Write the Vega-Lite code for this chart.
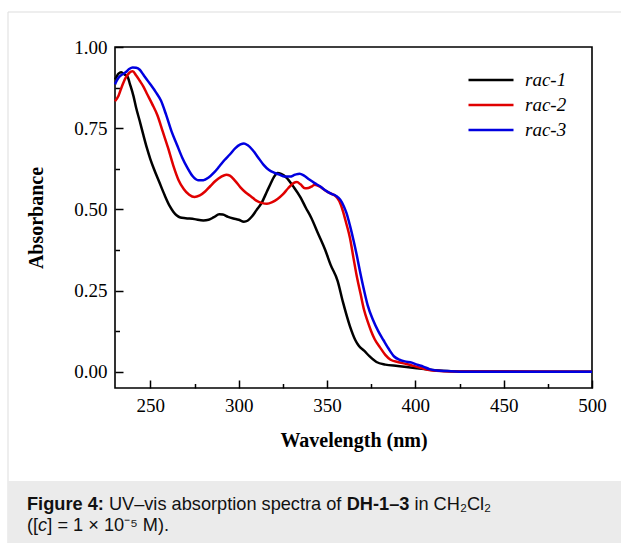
{
  "$schema": "https://vega.github.io/schema/vega-lite/v6.json",
  "width": 477,
  "height": 341,
  "autosize": {"type": "none"},
  "padding": {"left": 115, "top": 47, "right": 29, "bottom": 155},
  "background": "white",
  "config": {
    "view": {"stroke": "#000", "strokeWidth": 1.6},
    "axis": {"labelFont": "Liberation Serif", "labelFontSize": 19, "labelColor": "#000", "titleFont": "Liberation Serif", "titleFontSize": 20, "titleFontWeight": "bold", "titleColor": "#000", "tickColor": "#000", "tickWidth": 1.5, "domain": false, "grid": false, "labelFlush": false, "labelOverlap": false}
  },
  "data": {"values": [
    {"series": "rac-1", "wavelength": 230, "absorbance": 0.900},
    {"series": "rac-1", "wavelength": 232, "absorbance": 0.918},
    {"series": "rac-1", "wavelength": 233.5, "absorbance": 0.922},
    {"series": "rac-1", "wavelength": 235.5, "absorbance": 0.915},
    {"series": "rac-1", "wavelength": 237, "absorbance": 0.910},
    {"series": "rac-1", "wavelength": 238.5, "absorbance": 0.885},
    {"series": "rac-1", "wavelength": 240.5, "absorbance": 0.848},
    {"series": "rac-1", "wavelength": 242, "absorbance": 0.812},
    {"series": "rac-1", "wavelength": 244, "absorbance": 0.772},
    {"series": "rac-1", "wavelength": 246, "absorbance": 0.730},
    {"series": "rac-1", "wavelength": 248, "absorbance": 0.690},
    {"series": "rac-1", "wavelength": 250, "absorbance": 0.655},
    {"series": "rac-1", "wavelength": 252, "absorbance": 0.625},
    {"series": "rac-1", "wavelength": 255, "absorbance": 0.585},
    {"series": "rac-1", "wavelength": 258, "absorbance": 0.545},
    {"series": "rac-1", "wavelength": 261, "absorbance": 0.510},
    {"series": "rac-1", "wavelength": 263, "absorbance": 0.493},
    {"series": "rac-1", "wavelength": 265, "absorbance": 0.481},
    {"series": "rac-1", "wavelength": 267, "absorbance": 0.475},
    {"series": "rac-1", "wavelength": 270, "absorbance": 0.473},
    {"series": "rac-1", "wavelength": 275, "absorbance": 0.470},
    {"series": "rac-1", "wavelength": 280, "absorbance": 0.466},
    {"series": "rac-1", "wavelength": 283, "absorbance": 0.468},
    {"series": "rac-1", "wavelength": 286, "absorbance": 0.476},
    {"series": "rac-1", "wavelength": 289, "absorbance": 0.485},
    {"series": "rac-1", "wavelength": 291, "absorbance": 0.484},
    {"series": "rac-1", "wavelength": 294, "absorbance": 0.477},
    {"series": "rac-1", "wavelength": 297, "absorbance": 0.472},
    {"series": "rac-1", "wavelength": 300, "absorbance": 0.468},
    {"series": "rac-1", "wavelength": 303, "absorbance": 0.462},
    {"series": "rac-1", "wavelength": 305, "absorbance": 0.465},
    {"series": "rac-1", "wavelength": 307.5, "absorbance": 0.478},
    {"series": "rac-1", "wavelength": 310, "absorbance": 0.497},
    {"series": "rac-1", "wavelength": 313, "absorbance": 0.520},
    {"series": "rac-1", "wavelength": 316, "absorbance": 0.555},
    {"series": "rac-1", "wavelength": 318, "absorbance": 0.578},
    {"series": "rac-1", "wavelength": 320, "absorbance": 0.600},
    {"series": "rac-1", "wavelength": 322, "absorbance": 0.612},
    {"series": "rac-1", "wavelength": 324, "absorbance": 0.609},
    {"series": "rac-1", "wavelength": 327, "absorbance": 0.598},
    {"series": "rac-1", "wavelength": 331, "absorbance": 0.570},
    {"series": "rac-1", "wavelength": 335, "absorbance": 0.537},
    {"series": "rac-1", "wavelength": 338, "absorbance": 0.505},
    {"series": "rac-1", "wavelength": 341, "absorbance": 0.475},
    {"series": "rac-1", "wavelength": 345, "absorbance": 0.425},
    {"series": "rac-1", "wavelength": 349, "absorbance": 0.375},
    {"series": "rac-1", "wavelength": 352, "absorbance": 0.330},
    {"series": "rac-1", "wavelength": 356, "absorbance": 0.280},
    {"series": "rac-1", "wavelength": 359, "absorbance": 0.215},
    {"series": "rac-1", "wavelength": 363, "absorbance": 0.140},
    {"series": "rac-1", "wavelength": 366, "absorbance": 0.098},
    {"series": "rac-1", "wavelength": 368, "absorbance": 0.080},
    {"series": "rac-1", "wavelength": 371, "absorbance": 0.065},
    {"series": "rac-1", "wavelength": 374, "absorbance": 0.048},
    {"series": "rac-1", "wavelength": 378, "absorbance": 0.030},
    {"series": "rac-1", "wavelength": 383, "absorbance": 0.022},
    {"series": "rac-1", "wavelength": 390, "absorbance": 0.018},
    {"series": "rac-1", "wavelength": 395, "absorbance": 0.015},
    {"series": "rac-1", "wavelength": 401, "absorbance": 0.011},
    {"series": "rac-1", "wavelength": 408, "absorbance": 0.006},
    {"series": "rac-1", "wavelength": 415, "absorbance": 0.003},
    {"series": "rac-1", "wavelength": 425, "absorbance": 0.001},
    {"series": "rac-1", "wavelength": 500, "absorbance": 0.0},
    {"series": "rac-2", "wavelength": 230, "absorbance": 0.833},
    {"series": "rac-2", "wavelength": 232, "absorbance": 0.850},
    {"series": "rac-2", "wavelength": 234, "absorbance": 0.880},
    {"series": "rac-2", "wavelength": 236, "absorbance": 0.905},
    {"series": "rac-2", "wavelength": 238, "absorbance": 0.920},
    {"series": "rac-2", "wavelength": 240, "absorbance": 0.925},
    {"series": "rac-2", "wavelength": 242, "absorbance": 0.912},
    {"series": "rac-2", "wavelength": 244, "absorbance": 0.896},
    {"series": "rac-2", "wavelength": 246, "absorbance": 0.879},
    {"series": "rac-2", "wavelength": 248, "absorbance": 0.857},
    {"series": "rac-2", "wavelength": 251, "absorbance": 0.825},
    {"series": "rac-2", "wavelength": 254, "absorbance": 0.790},
    {"series": "rac-2", "wavelength": 257, "absorbance": 0.740},
    {"series": "rac-2", "wavelength": 260, "absorbance": 0.690},
    {"series": "rac-2", "wavelength": 263, "absorbance": 0.635},
    {"series": "rac-2", "wavelength": 266, "absorbance": 0.590},
    {"series": "rac-2", "wavelength": 269, "absorbance": 0.562},
    {"series": "rac-2", "wavelength": 272, "absorbance": 0.545},
    {"series": "rac-2", "wavelength": 275, "absorbance": 0.538},
    {"series": "rac-2", "wavelength": 278, "absorbance": 0.543},
    {"series": "rac-2", "wavelength": 281, "absorbance": 0.555},
    {"series": "rac-2", "wavelength": 284, "absorbance": 0.572},
    {"series": "rac-2", "wavelength": 287, "absorbance": 0.588},
    {"series": "rac-2", "wavelength": 290, "absorbance": 0.600},
    {"series": "rac-2", "wavelength": 293, "absorbance": 0.607},
    {"series": "rac-2", "wavelength": 295, "absorbance": 0.604},
    {"series": "rac-2", "wavelength": 298, "absorbance": 0.588},
    {"series": "rac-2", "wavelength": 301, "absorbance": 0.568},
    {"series": "rac-2", "wavelength": 304, "absorbance": 0.552},
    {"series": "rac-2", "wavelength": 307, "absorbance": 0.540},
    {"series": "rac-2", "wavelength": 310, "absorbance": 0.527},
    {"series": "rac-2", "wavelength": 313, "absorbance": 0.520},
    {"series": "rac-2", "wavelength": 316, "absorbance": 0.517},
    {"series": "rac-2", "wavelength": 319, "absorbance": 0.522},
    {"series": "rac-2", "wavelength": 322, "absorbance": 0.532},
    {"series": "rac-2", "wavelength": 325, "absorbance": 0.546},
    {"series": "rac-2", "wavelength": 328, "absorbance": 0.565},
    {"series": "rac-2", "wavelength": 331, "absorbance": 0.581},
    {"series": "rac-2", "wavelength": 333, "absorbance": 0.584},
    {"series": "rac-2", "wavelength": 335, "absorbance": 0.577},
    {"series": "rac-2", "wavelength": 337.5, "absorbance": 0.565},
    {"series": "rac-2", "wavelength": 339.5, "absorbance": 0.566},
    {"series": "rac-2", "wavelength": 341.5, "absorbance": 0.571},
    {"series": "rac-2", "wavelength": 343, "absorbance": 0.576},
    {"series": "rac-2", "wavelength": 346, "absorbance": 0.570},
    {"series": "rac-2", "wavelength": 349, "absorbance": 0.558},
    {"series": "rac-2", "wavelength": 352, "absorbance": 0.549},
    {"series": "rac-2", "wavelength": 355, "absorbance": 0.540},
    {"series": "rac-2", "wavelength": 357, "absorbance": 0.525},
    {"series": "rac-2", "wavelength": 359, "absorbance": 0.495},
    {"series": "rac-2", "wavelength": 361, "absorbance": 0.455},
    {"series": "rac-2", "wavelength": 363, "absorbance": 0.412},
    {"series": "rac-2", "wavelength": 365, "absorbance": 0.350},
    {"series": "rac-2", "wavelength": 367, "absorbance": 0.290},
    {"series": "rac-2", "wavelength": 369, "absorbance": 0.240},
    {"series": "rac-2", "wavelength": 371, "absorbance": 0.190},
    {"series": "rac-2", "wavelength": 373, "absorbance": 0.155},
    {"series": "rac-2", "wavelength": 375, "absorbance": 0.125},
    {"series": "rac-2", "wavelength": 377, "absorbance": 0.100},
    {"series": "rac-2", "wavelength": 380, "absorbance": 0.075},
    {"series": "rac-2", "wavelength": 383, "absorbance": 0.052},
    {"series": "rac-2", "wavelength": 386, "absorbance": 0.037},
    {"series": "rac-2", "wavelength": 390, "absorbance": 0.030},
    {"series": "rac-2", "wavelength": 395, "absorbance": 0.024},
    {"series": "rac-2", "wavelength": 399, "absorbance": 0.018},
    {"series": "rac-2", "wavelength": 403, "absorbance": 0.012},
    {"series": "rac-2", "wavelength": 407, "absorbance": 0.006},
    {"series": "rac-2", "wavelength": 412, "absorbance": 0.003},
    {"series": "rac-2", "wavelength": 420, "absorbance": 0.001},
    {"series": "rac-2", "wavelength": 500, "absorbance": 0.0},
    {"series": "rac-3", "wavelength": 230, "absorbance": 0.885},
    {"series": "rac-3", "wavelength": 232, "absorbance": 0.905},
    {"series": "rac-3", "wavelength": 234, "absorbance": 0.915},
    {"series": "rac-3", "wavelength": 236, "absorbance": 0.922},
    {"series": "rac-3", "wavelength": 238, "absorbance": 0.932},
    {"series": "rac-3", "wavelength": 240, "absorbance": 0.937},
    {"series": "rac-3", "wavelength": 242, "absorbance": 0.936},
    {"series": "rac-3", "wavelength": 244, "absorbance": 0.930},
    {"series": "rac-3", "wavelength": 246, "absorbance": 0.915},
    {"series": "rac-3", "wavelength": 248, "absorbance": 0.900},
    {"series": "rac-3", "wavelength": 250, "absorbance": 0.885},
    {"series": "rac-3", "wavelength": 253, "absorbance": 0.862},
    {"series": "rac-3", "wavelength": 256, "absorbance": 0.835},
    {"series": "rac-3", "wavelength": 259, "absorbance": 0.790},
    {"series": "rac-3", "wavelength": 262, "absorbance": 0.740},
    {"series": "rac-3", "wavelength": 265, "absorbance": 0.700},
    {"series": "rac-3", "wavelength": 268, "absorbance": 0.660},
    {"series": "rac-3", "wavelength": 271, "absorbance": 0.628},
    {"series": "rac-3", "wavelength": 274, "absorbance": 0.602},
    {"series": "rac-3", "wavelength": 277, "absorbance": 0.590},
    {"series": "rac-3", "wavelength": 280, "absorbance": 0.590},
    {"series": "rac-3", "wavelength": 283, "absorbance": 0.598},
    {"series": "rac-3", "wavelength": 286, "absorbance": 0.613},
    {"series": "rac-3", "wavelength": 289, "absorbance": 0.632},
    {"series": "rac-3", "wavelength": 292, "absorbance": 0.652},
    {"series": "rac-3", "wavelength": 295, "absorbance": 0.669},
    {"series": "rac-3", "wavelength": 298, "absorbance": 0.688},
    {"series": "rac-3", "wavelength": 301, "absorbance": 0.700},
    {"series": "rac-3", "wavelength": 303, "absorbance": 0.703},
    {"series": "rac-3", "wavelength": 305, "absorbance": 0.698},
    {"series": "rac-3", "wavelength": 308, "absorbance": 0.682},
    {"series": "rac-3", "wavelength": 311, "absorbance": 0.660},
    {"series": "rac-3", "wavelength": 314, "absorbance": 0.638},
    {"series": "rac-3", "wavelength": 317, "absorbance": 0.622},
    {"series": "rac-3", "wavelength": 320, "absorbance": 0.613},
    {"series": "rac-3", "wavelength": 323, "absorbance": 0.607},
    {"series": "rac-3", "wavelength": 326, "absorbance": 0.601},
    {"series": "rac-3", "wavelength": 329, "absorbance": 0.601},
    {"series": "rac-3", "wavelength": 332, "absorbance": 0.607},
    {"series": "rac-3", "wavelength": 334.5, "absorbance": 0.610},
    {"series": "rac-3", "wavelength": 337, "absorbance": 0.604},
    {"series": "rac-3", "wavelength": 340, "absorbance": 0.592},
    {"series": "rac-3", "wavelength": 343, "absorbance": 0.581},
    {"series": "rac-3", "wavelength": 346, "absorbance": 0.571},
    {"series": "rac-3", "wavelength": 349, "absorbance": 0.559},
    {"series": "rac-3", "wavelength": 352, "absorbance": 0.549},
    {"series": "rac-3", "wavelength": 355, "absorbance": 0.542},
    {"series": "rac-3", "wavelength": 357.5, "absorbance": 0.530},
    {"series": "rac-3", "wavelength": 359.5, "absorbance": 0.510},
    {"series": "rac-3", "wavelength": 361, "absorbance": 0.489},
    {"series": "rac-3", "wavelength": 363, "absorbance": 0.450},
    {"series": "rac-3", "wavelength": 365, "absorbance": 0.405},
    {"series": "rac-3", "wavelength": 367, "absorbance": 0.355},
    {"series": "rac-3", "wavelength": 369, "absorbance": 0.300},
    {"series": "rac-3", "wavelength": 371, "absorbance": 0.250},
    {"series": "rac-3", "wavelength": 373, "absorbance": 0.205},
    {"series": "rac-3", "wavelength": 376, "absorbance": 0.160},
    {"series": "rac-3", "wavelength": 379, "absorbance": 0.125},
    {"series": "rac-3", "wavelength": 382, "absorbance": 0.097},
    {"series": "rac-3", "wavelength": 385, "absorbance": 0.070},
    {"series": "rac-3", "wavelength": 388, "absorbance": 0.047},
    {"series": "rac-3", "wavelength": 391, "absorbance": 0.037},
    {"series": "rac-3", "wavelength": 394, "absorbance": 0.032},
    {"series": "rac-3", "wavelength": 398, "absorbance": 0.028},
    {"series": "rac-3", "wavelength": 401, "absorbance": 0.022},
    {"series": "rac-3", "wavelength": 404.5, "absorbance": 0.016},
    {"series": "rac-3", "wavelength": 408, "absorbance": 0.008},
    {"series": "rac-3", "wavelength": 412, "absorbance": 0.004},
    {"series": "rac-3", "wavelength": 418, "absorbance": 0.002},
    {"series": "rac-3", "wavelength": 425, "absorbance": 0.0},
    {"series": "rac-3", "wavelength": 500, "absorbance": 0.0}
  ]},
  "layer": [
    {
      "data": {"values": [{"part": "frame"}]},
      "mark": {"type": "rect", "fill": null, "stroke": "#dddddd", "strokeWidth": 1},
      "encoding": {"x": {"value": -107}, "x2": {"value": 516}, "y": {"value": -35}, "y2": {"value": 506}}
    },
    {
      "data": {"values": [{"part": "caption box"}]},
      "mark": {"type": "rect", "fill": "#ebebeb", "stroke": null},
      "encoding": {"x": {"value": -107}, "x2": {"value": 516}, "y": {"value": 434}, "y2": {"value": 506}}
    },
    {
      "data": {"values": [{"text": "Figure 4:"}]},
      "mark": {"type": "text", "font": "Liberation Sans", "fontSize": 18.2, "fontWeight": "bold", "align": "left", "baseline": "alphabetic", "color": "#111"},
      "encoding": {"text": {"field": "text"}, "x": {"value": -88}, "y": {"value": 463}}
    },
    {
      "data": {"values": [{"text": "UV–vis absorption spectra of"}]},
      "mark": {"type": "text", "font": "Liberation Sans", "fontSize": 18.2, "align": "left", "baseline": "alphabetic", "color": "#111"},
      "encoding": {"text": {"field": "text"}, "x": {"value": -6.1}, "y": {"value": 463}}
    },
    {
      "data": {"values": [{"text": "DH-1–3"}]},
      "mark": {"type": "text", "font": "Liberation Sans", "fontSize": 18.2, "fontWeight": "bold", "align": "left", "baseline": "alphabetic", "color": "#111"},
      "encoding": {"text": {"field": "text"}, "x": {"value": 231.7}, "y": {"value": 463}}
    },
    {
      "data": {"values": [{"text": "in CH₂Cl₂"}]},
      "mark": {"type": "text", "font": "Liberation Sans", "fontSize": 18.2, "align": "left", "baseline": "alphabetic", "color": "#111"},
      "encoding": {"text": {"field": "text"}, "x": {"value": 299.4}, "y": {"value": 463}}
    },
    {
      "data": {"values": [{"text": "(["}]},
      "mark": {"type": "text", "font": "Liberation Sans", "fontSize": 18.2, "align": "left", "baseline": "alphabetic", "color": "#111"},
      "encoding": {"text": {"field": "text"}, "x": {"value": -88}, "y": {"value": 484}}
    },
    {
      "data": {"values": [{"text": "c"}]},
      "mark": {"type": "text", "font": "Liberation Sans", "fontSize": 18.2, "fontStyle": "italic", "align": "left", "baseline": "alphabetic", "color": "#111"},
      "encoding": {"text": {"field": "text"}, "x": {"value": -76.9}, "y": {"value": 484}}
    },
    {
      "data": {"values": [{"text": "] = 1 × 10⁻⁵ M)."}]},
      "mark": {"type": "text", "font": "Liberation Sans", "fontSize": 18.2, "align": "left", "baseline": "alphabetic", "color": "#111"},
      "encoding": {"text": {"field": "text"}, "x": {"value": -67.7}, "y": {"value": 484}}
    },
    {
      "mark": {"type": "line", "interpolate": "monotone", "strokeWidth": 2.5},
      "encoding": {
        "x": {"field": "wavelength", "type": "quantitative", "scale": {"domain": [230, 500], "nice": false, "zero": false},
              "axis": {"orient": "bottom", "values": [250, 300, 350, 400, 450, 500], "tickSize": -8, "labelPadding": 16, "title": "Wavelength (nm)", "titlePadding": 15}},
        "y": {"field": "absorbance", "type": "quantitative", "scale": {"domain": [-0.05, 1.0], "nice": false, "zero": false},
              "axis": {"orient": "left", "values": [0, 0.25, 0.5, 0.75, 1.0], "format": ".2f", "tickSize": -8, "labelPadding": 16, "title": "Absorbance", "titlePadding": 27}},
        "color": {"field": "series", "type": "nominal", "scale": {"domain": ["rac-1", "rac-2", "rac-3"], "range": ["#000000", "#e00000", "#0000e0"]},
                  "legend": {"title": null, "orient": "none", "legendX": 352, "legendY": 23, "padding": 0, "symbolType": "stroke", "symbolSize": 2025, "symbolStrokeWidth": 2.5, "clipHeight": 20, "rowPadding": 5, "labelOffset": 10, "labelFont": "Liberation Serif", "labelFontSize": 19, "labelFontStyle": "italic", "labelColor": "#000"}}
      }
    },
    {
      "mark": {"type": "line", "strokeOpacity": 0},
      "encoding": {
        "x": {"field": "wavelength", "type": "quantitative",
              "axis": {"orient": "bottom", "values": [275, 325, 375, 425, 475], "tickSize": -4.5, "labels": false, "title": null}},
        "y": {"field": "absorbance", "type": "quantitative",
              "axis": {"orient": "left", "values": [0.125, 0.375, 0.625, 0.875], "tickSize": -4.5, "labels": false, "title": null}},
        "detail": {"field": "series"}
      }
    }
  ],
  "resolve": {"axis": {"x": "independent", "y": "independent"}}
}
